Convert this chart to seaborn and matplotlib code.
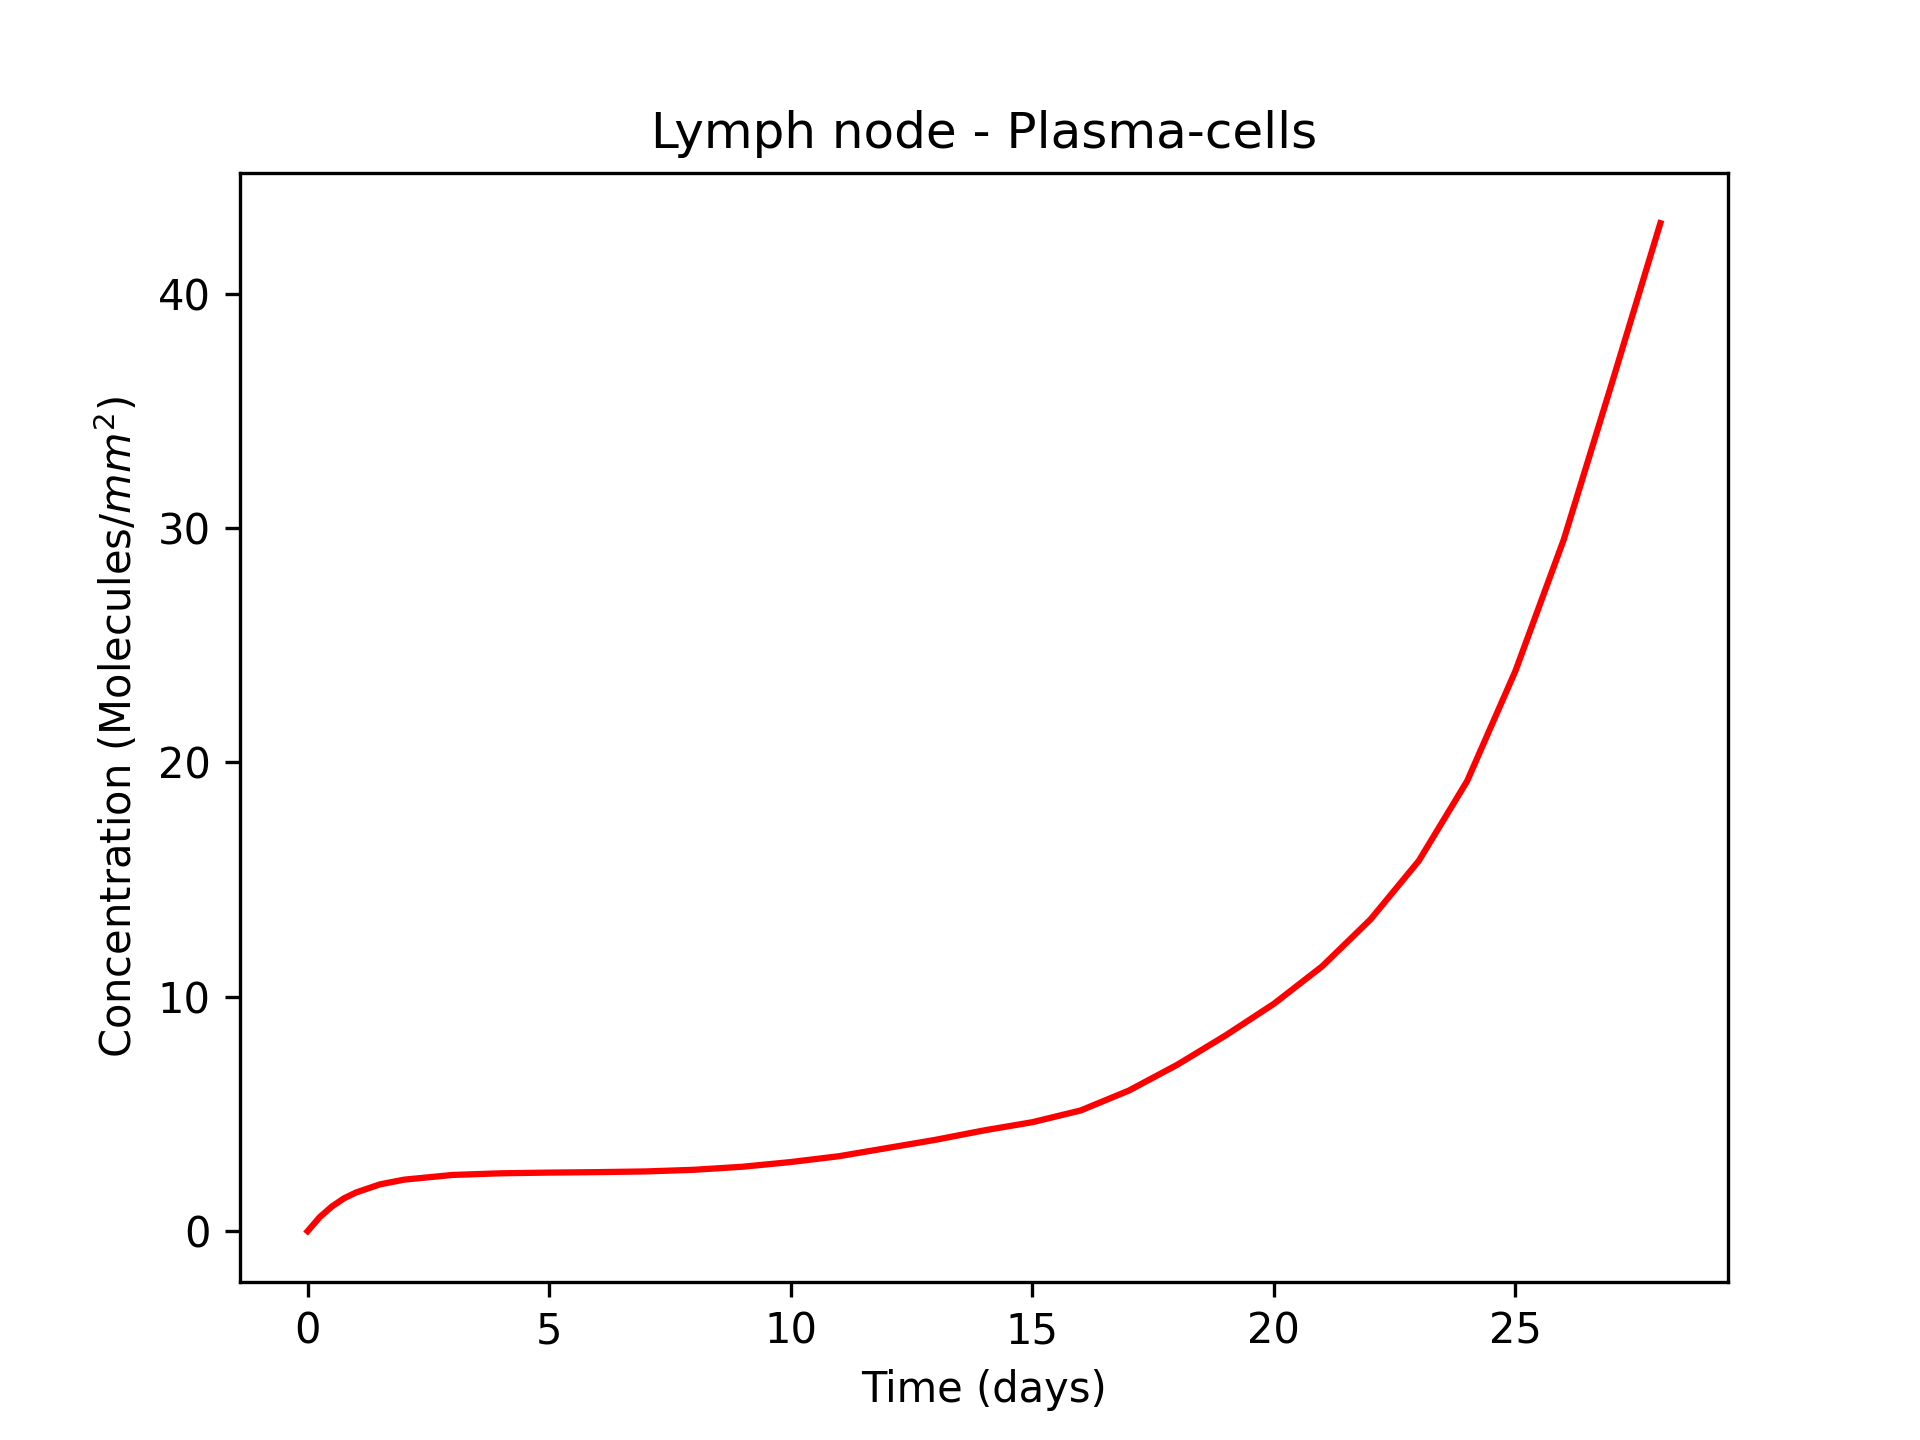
import matplotlib
matplotlib.use("Agg")
import matplotlib.pyplot as plt
import seaborn as sns
import pandas as pd

# values
time_days = [0, 0.25, 0.5, 0.75, 1, 1.5, 2, 3, 4, 5, 6, 7, 8, 9, 10, 11, 12, 13, 14, 15, 16,
             17, 18, 19, 20, 21, 22, 23, 24, 25, 26, 27, 28]
plasma = [0, 0.6, 1.05, 1.4, 1.65, 2.0, 2.2, 2.4, 2.47, 2.5, 2.52, 2.55, 2.62, 2.75, 2.95, 3.2,
          3.55, 3.9, 4.3, 4.65, 5.15, 6.0, 7.1, 8.35, 9.7, 11.3, 13.3, 15.8, 19.2, 23.9, 29.5, 36.2, 43.0]

df = pd.DataFrame({"t": time_days, "c": plasma})

fig, ax = plt.subplots(figsize=(6.4, 4.8), dpi=300)
sns.lineplot(data=df, x="t", y="c", color="red", ax=ax)
ax.set_title("Lymph node - Plasma-cells")
ax.set_xlabel("Time (days)")
ax.set_ylabel("Concentration (Molecules/$mm^2$)")
fig.savefig("out.png")
